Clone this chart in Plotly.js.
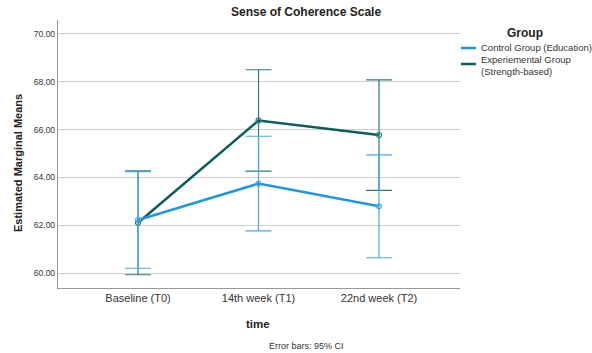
<!DOCTYPE html>
<html><head><meta charset="utf-8">
<script src="https://cdn.plot.ly/plotly-3.0.1.min.js"></script>
<style>html,body{margin:0;padding:0;background:#fff}#c{width:592px;height:353px}</style>
</head><body><div id="c"></div>
<script>
const categories = ["Baseline (T0)", "14th week (T1)", "22nd week (T2)"];
const controlMeans = [62.22, 63.74, 62.79];
const controlCI = [2.02, 1.98, 2.15];
const expMeans = [62.10, 66.38, 65.77];
const expCI = [2.17, 2.12, 2.31];
const yTicks = [60, 62, 64, 66, 68, 70];
const yTickText = ["60.00", "62.00", "64.00", "66.00", "68.00", "70.00"];

const L = 58, R = 460, T = 20, B = 288;
const px = x => (x - L) / (R - L);
const py = y => (B - y) / (B - T);

const ctrlColor = "#1e96e3", ctrlErr = "#4aa9e0";
const expColor = "#0c5d5b", expErr = "#2d7c7f";

const traces = [
  {x: categories, y: expMeans, type: "scatter", mode: "lines+markers",
   line: {color: expColor, width: 2.5},
   marker: {symbol: "circle-open", size: 5, color: expErr, line: {width: 1.2}},
   error_y: {type: "data", array: expCI, visible: true, color: expErr, thickness: 1.2, width: 13},
   showlegend: false, hoverinfo: "skip"},
  {x: categories, y: controlMeans, type: "scatter", mode: "lines+markers",
   line: {color: ctrlColor, width: 2.5},
   marker: {symbol: "circle-open", size: 5, color: ctrlErr, line: {width: 1.2}},
   error_y: {type: "data", array: controlCI, visible: true, color: ctrlErr, thickness: 1.2, width: 13},
   showlegend: false, hoverinfo: "skip"}
];

const font = "Liberation Sans, Arial, sans-serif";
const layout = {
  width: 592, height: 353,
  margin: {l: L, r: 592 - R, t: T, b: 353 - B, pad: 0},
  paper_bgcolor: "#fff", plot_bgcolor: "#fff",
  font: {family: font, color: "#333"},
  showlegend: false,
  xaxis: {type: "category", range: [-0.664, 2.672], showgrid: false, zeroline: false,
          showline: true, linecolor: "#999", linewidth: 1.2, ticks: "",
          tickfont: {size: 11, color: "#333", family: font}, fixedrange: true},
  yaxis: {range: [59.375, 70.58], tickvals: yTicks, ticktext: yTickText,
          showgrid: true, gridcolor: "#cfcfcf", gridwidth: 1, zeroline: false,
          showline: true, linecolor: "#999", linewidth: 1.2, ticks: "",
          tickfont: {size: 8.5, color: "#333", family: font}, fixedrange: true},
  shapes: [
    {type: "line", xref: "paper", yref: "paper", x0: px(461), x1: px(476), y0: py(48), y1: py(48),
     line: {color: ctrlColor, width: 2.5}},
    {type: "line", xref: "paper", yref: "paper", x0: px(461), x1: px(476), y0: py(64), y1: py(64),
     line: {color: expColor, width: 2.5}}
  ],
  annotations: [
    {text: "<b>Sense of Coherence Scale</b>", xref: "paper", yref: "paper", x: px(306), y: py(12),
     showarrow: false, font: {size: 12, color: "#222", family: font}, xanchor: "center", yanchor: "middle"},
    {text: "<b>Group</b>", xref: "paper", yref: "paper", x: px(525), y: py(33),
     showarrow: false, font: {size: 12, color: "#222", family: font}, xanchor: "center", yanchor: "middle"},
    {text: "Control Group (Education)", xref: "paper", yref: "paper", x: px(479), y: py(48),
     showarrow: false, font: {size: 9.5, color: "#333", family: font}, xanchor: "left", yanchor: "middle"},
    {text: "Experiemental Group<br>(Strength-based)", xref: "paper", yref: "paper", x: px(479), y: py(65),
     showarrow: false, font: {size: 9.5, color: "#333", family: font}, xanchor: "left", yanchor: "middle", align: "left"},
    {text: "<b>Estimated Marginal Means</b>", xref: "paper", yref: "paper", x: px(18), y: py(163),
     showarrow: false, textangle: -90, font: {size: 11, color: "#222", family: font}, xanchor: "center", yanchor: "middle"},
    {text: "<b>time</b>", xref: "paper", yref: "paper", x: px(258), y: py(324),
     showarrow: false, font: {size: 11.5, color: "#222", family: font}, xanchor: "center", yanchor: "middle"},
    {text: "Error bars: 95% CI", xref: "paper", yref: "paper", x: px(306), y: py(346),
     showarrow: false, font: {size: 9, color: "#333", family: font}, xanchor: "center", yanchor: "middle"}
  ]
};
Plotly.newPlot("c", traces, layout, {displayModeBar: false, staticPlot: true});
</script></body></html>
